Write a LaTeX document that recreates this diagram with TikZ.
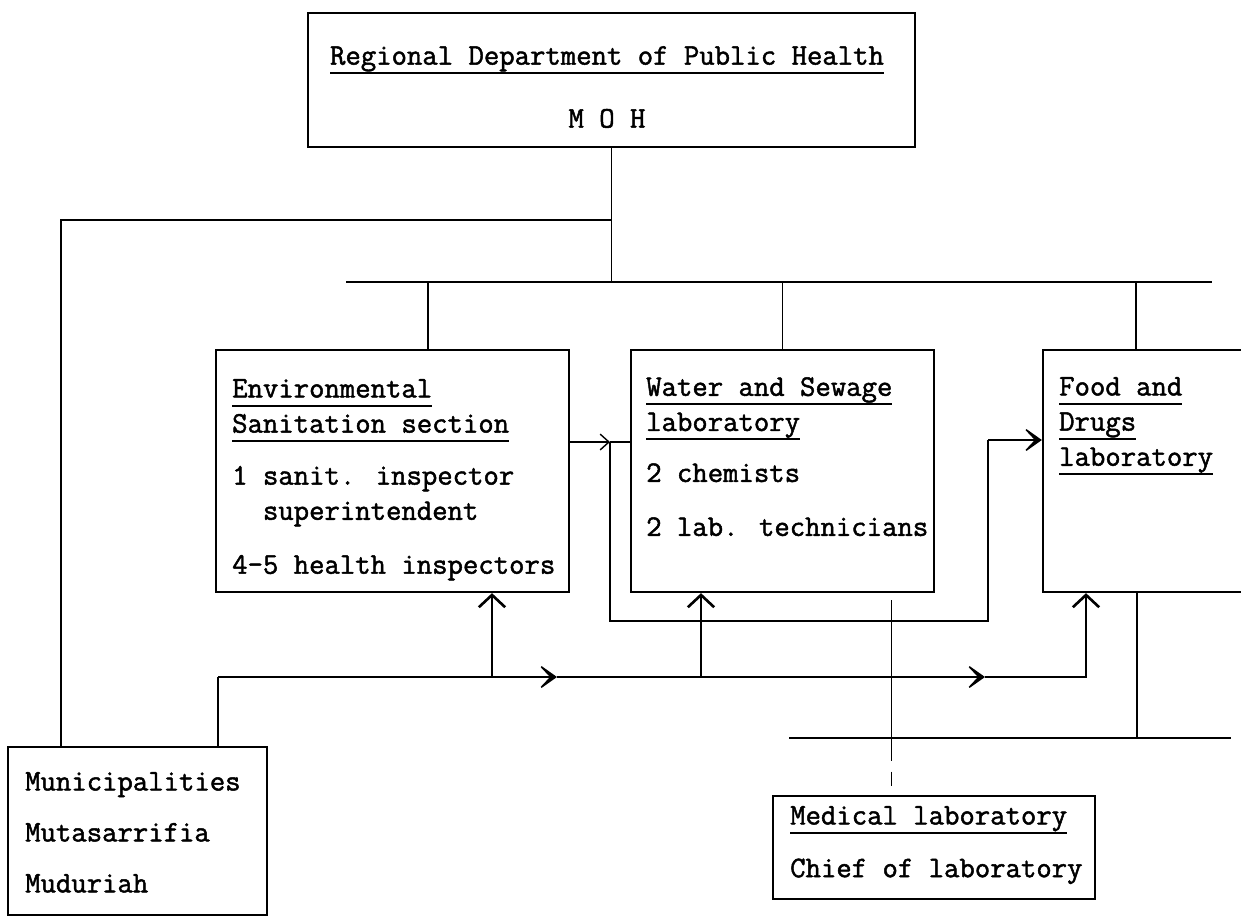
\documentclass[tikz,border=0pt]{standalone}
\usepackage{fontspec}
\usepackage{tikz}
\usetikzlibrary{arrows.meta,positioning,calc}
\newfontfamily\typeface{Latin Modern Mono}[FakeBold=1.6]
\newsavebox{\headbox}
\newcommand{\uhead}[1]{\sbox{\headbox}{#1}\rlap{\rule[-5.3pt]{\wd\headbox}{1.3pt}}\usebox{\headbox}}

\begin{document}
\begin{tikzpicture}[
  typed/.style={font=\fontsize{17}{20}\selectfont\typeface},
  unitbox/.style={draw,line width=1.3pt,inner sep=0pt},
  unittext/.style={typed,anchor=north west,align=left,inner sep=0pt},
  link/.style={line width=0.8pt},
  bus/.style={line width=1.2pt},
  barb/.style={-{Straight Barb[length=5pt,width=9pt]}},
  upbarb/.style={-{Straight Barb[length=7pt,width=15pt,line width=1.5pt]}},
  boldhead/.style={-{Stealth[length=12pt,width=17pt,inset=8pt]}}
]
  \useasboundingbox (0,0) rectangle (24.82,-18.32);
  \clip (0,0) rectangle (24.82,-18.32);

  % Headquarters
  \node[unitbox,minimum width=12.14cm,minimum height=2.68cm] (moh) at (12.23,-1.60) {};
  \node[typed,anchor=north,align=center,inner sep=0pt] (mohtxt) at ($(moh.north)+(-0.09,-0.68)$)
    {\uhead{Regional Department of Public Health}\\[15.8pt]M O H};

  % Sections
  \node[unitbox,minimum width=7.06cm,minimum height=4.84cm] (envsan) at (7.85,-9.42) {};
  \node[unittext] (envsantxt) at ($(envsan.north west)+(0.34,-0.60)$)
    {\uhead{Environmental}\\\uhead{Sanitation section}\\[9.6pt]1 sanit. inspector\\
     \phantom{1 }superintendent\\[10.7pt]4-5 health inspectors};
  \node[unitbox,minimum width=6.06cm,minimum height=4.84cm] (watlab) at (15.65,-9.42) {};
  \node[unittext] (watlabtxt) at ($(watlab.north west)+(0.32,-0.56)$)
    {\uhead{Water and Sewage}\\\uhead{laboratory}\\[9pt]2 chemists\\[10.7pt]2 lab. technicians};
  \node[unitbox,minimum width=4.94cm,minimum height=4.84cm] (foodlab) at (23.33,-9.42) {};
  \node[unittext] (foodlabtxt) at ($(foodlab.north west)+(0.34,-0.56)$)
    {\uhead{Food and}\\\uhead{Drugs}\\\uhead{laboratory}};

  % Municipalities and medical laboratory
  \node[unitbox,minimum width=5.18cm,minimum height=3.36cm] (munic) at (2.75,-16.62) {};
  \node[unittext] (munictxt) at ($(munic.north west)+(0.36,-0.52)$)
    {Municipalities\\[9pt]Mutasarrifia\\[9pt]Muduriah};
  \node[unitbox,minimum width=6.44cm,minimum height=2.06cm] (medlab) at (18.68,-16.95) {};
  \node[unittext] (medlabtxt) at ($(medlab.north west)+(0.36,-0.22)$)
    {\uhead{Medical laboratory}\\[10pt]Chief of laboratory};

  % Line of command
  \coordinate (busW) at (6.92,-5.64);
  \coordinate (busE) at (24.24,-5.64);
  \coordinate (brW) at (1.22,-4.40);
  \coordinate (envdrop) at (8.56,-5.64);
  \coordinate (fooddrop) at (22.72,-5.64);
  \draw[link] (moh.south) -- (moh.south |- busW);
  \draw[bus] (busW) -- (busE);
  \draw[bus] (moh.south |- brW) -- (brW) -- (brW |- munic.north);
  \draw[link] (envdrop) -- (envdrop |- envsan.north);
  \draw[link] (watlab.north |- busW) -- (watlab.north);
  \draw[link] (fooddrop) -- (fooddrop |- foodlab.north);

  % Sanitation to laboratories
  \coordinate (split) at (12.20,-8.84);
  \coordinate (loopSW) at (12.20,-12.42);
  \coordinate (loopNE) at (19.76,-8.80);
  \draw[link,barb] (envsan.east |- split) -- (split);
  \draw[link] (split) -- (watlab.west |- split);
  \draw[link] (split) -- (loopSW) -| (loopNE);
  \draw[link,boldhead] (loopNE) -- (loopNE -| foodlab.west);

  % Municipalities to sections
  \coordinate (flowW) at (4.36,-13.54);
  \coordinate (headA) at (11.14,-13.54);
  \coordinate (headB) at (19.70,-13.54);
  \coordinate (flowE) at (21.72,-13.54);
  \coordinate (envup) at (9.84,-13.54);
  \coordinate (watup) at (14.02,-13.54);
  \draw[link] (flowW |- munic.north) -- (flowW);
  \draw[link,boldhead] (flowW) -- (headA);
  \draw[link,boldhead] (headA) -- (headB);
  \draw[link,upbarb] (headB) -- (flowE) -- (flowE |- foodlab.south);
  \draw[link,upbarb] (envup) -- (envup |- envsan.south);
  \draw[link,upbarb] (watup) -- (watup |- watlab.south);

  % Medical laboratory
  \coordinate (medtap) at (17.82,-12.00);
  \coordinate (medcut) at (17.82,-14.94);
  \coordinate (medW) at (15.78,-14.76);
  \coordinate (medE) at (24.62,-14.76);
  \coordinate (foodtap) at (22.74,-14.76);
  \draw[line width=0.5pt] (medtap) -- (medcut);
  \draw[line width=0.5pt,dash pattern=on 8pt off 6pt] (medcut) -- (medcut |- medlab.north);
  \draw[link] (medW) -- (medE);
  \draw[link] (foodtap |- foodlab.south) -- (foodtap);
\end{tikzpicture}
\end{document}
